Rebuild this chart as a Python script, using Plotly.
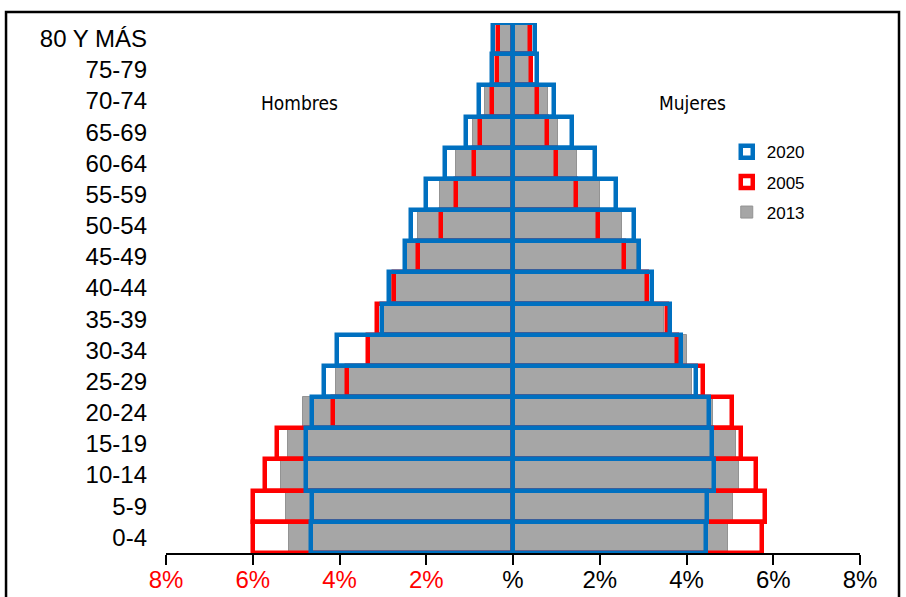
import plotly.graph_objects as go

# Age groups, bottom to top
age_groups = ["0-4", "5-9", "10-14", "15-19", "20-24", "25-29", "30-34", "35-39",
              "40-44", "45-49", "50-54", "55-59", "60-64", "65-69", "70-74", "75-79",
              "80 Y MÁS"]

# Share of total population (%) by age group
men_2013 = [5.17, 5.23, 5.34, 5.19, 4.85, 4.07, 3.30, 3.02, 2.78, 2.46, 2.19, 1.69,
            1.31, 0.93, 0.64, 0.40, 0.38]
women_2013 = [4.95, 5.08, 5.20, 5.14, 4.60, 4.12, 4.00, 3.49, 3.10, 2.85, 2.51, 2.01,
              1.47, 1.03, 0.80, 0.40, 0.38]
men_2005 = [5.99, 5.99, 5.71, 5.45, 4.15, 3.83, 3.35, 3.13, 2.74, 2.18, 1.67, 1.32,
            0.90, 0.75, 0.48, 0.36, 0.34]
women_2005 = [5.74, 5.82, 5.61, 5.25, 5.05, 4.37, 3.78, 3.54, 3.08, 2.56, 1.96, 1.45,
              1.00, 0.78, 0.55, 0.42, 0.40]
men_2020 = [4.66, 4.64, 4.78, 4.78, 4.64, 4.35, 4.06, 3.03, 2.87, 2.50, 2.35, 2.01,
            1.56, 1.09, 0.78, 0.49, 0.46]
women_2020 = [4.46, 4.47, 4.64, 4.58, 4.53, 4.21, 3.87, 3.63, 3.21, 2.91, 2.78, 2.38,
              1.88, 1.37, 0.94, 0.55, 0.51]

x_ticks = [-8, -6, -4, -2, 0, 2, 4, 6, 8]
x_tick_text = ['<span style="color:#ff0000">8%</span>',
               '<span style="color:#ff0000">6%</span>',
               '<span style="color:#ff0000">4%</span>',
               '<span style="color:#ff0000">2%</span>',
               '%', '2%', '4%', '6%', '8%']

GRAY = "#a6a6a6"
RED = "#ff0000"
BLUE = "#0070c0"
FONT = "Liberation Sans, Arial, sans-serif"
NARROW = "Liberation Sans Narrow, Arial Narrow, DejaVu Sans Condensed, Liberation Sans, sans-serif"

fig = go.Figure()


def add_year(name, men, women, fill, line_color, line_width, rank):
    for side, vals in (("men", men), ("women", women)):
        xs = [-v for v in vals] if side == "men" else list(vals)
        fig.add_trace(go.Bar(
            y=age_groups, x=xs, orientation="h", name=name,
            legendgroup=name, legendrank=rank, showlegend=(side == "women"),
            width=1,
            marker=dict(color=fill, line=dict(color=line_color, width=line_width)),
            hoverinfo="skip",
        ))


# filled 2013 bars underneath, outlined 2005 and 2020 bars on top
add_year("2013", men_2013, women_2013, GRAY, "#939393", 1, 3)
add_year("2005", men_2005, women_2005, "rgba(0,0,0,0)", RED, 4.5, 2)
add_year("2020", men_2020, women_2020, "rgba(0,0,0,0)", BLUE, 4.5, 1)

fig.update_layout(
    width=906, height=597,
    margin=dict(l=166, r=46, t=23, b=44),
    paper_bgcolor="white", plot_bgcolor="white",
    barmode="overlay", bargap=0,
    font=dict(family=FONT, color="black"),
    showlegend=True,
    legend=dict(x=0.808, y=0.79, xanchor="left", yanchor="top",
                font=dict(family=FONT, size=17, color="black"),
                tracegroupgap=5, bgcolor="rgba(0,0,0,0)", itemclick=False),
    xaxis=dict(range=[-8, 8], tickvals=x_ticks, ticktext=x_tick_text,
               showgrid=False, zeroline=False, showline=True, linecolor="black",
               linewidth=2, ticks="outside", ticklen=10, tickwidth=2,
               tickcolor="black", tickfont=dict(size=24, family=FONT),
               ticklabelstandoff=-6, layer="below traces", automargin=False,
               fixedrange=True),
    yaxis=dict(type="category", categoryorder="array", categoryarray=age_groups,
               range=[-0.5, 16.5], showgrid=False, zeroline=False, showline=False,
               ticks="", ticklabelstandoff=18, tickfont=dict(size=24, family=FONT),
               automargin=False, fixedrange=True),
    # central axis with boundary ticks (left) and mid-band ticks (right)
    yaxis2=dict(overlaying="y", anchor="free", position=0.5, side="left",
                range=[-0.5, 16.5], showgrid=False, zeroline=False,
                showline=True, linecolor="black", linewidth=2.5,
                tickmode="array", tickvals=[i - 0.5 for i in range(18)],
                ticks="outside", ticklen=6, tickwidth=2, tickcolor="black",
                showticklabels=False, automargin=False,
                minor=dict(tickmode="array", tickvals=list(range(17)),
                           ticks="inside", ticklen=5, tickwidth=2, tickcolor="black"),
                fixedrange=True),
)

fig.add_annotation(text="Hombres", x=0.193, y=0.849, xref="paper", yref="paper",
                   xanchor="center", yanchor="middle", showarrow=False,
                   font=dict(family=NARROW, size=19, color="black"))
fig.add_annotation(text="Mujeres", x=0.758, y=0.849, xref="paper", yref="paper",
                   xanchor="center", yanchor="middle", showarrow=False,
                   font=dict(family=NARROW, size=19, color="black"))

# chart frame
fig.add_shape(type="rect", xref="paper", yref="paper",
              x0=-0.2305, x1=1.0562, y0=-0.2, y1=1.0208,
              line=dict(color="black", width=2.5), fillcolor="rgba(0,0,0,0)",
              layer="above")

fig.write_html("out.html")
